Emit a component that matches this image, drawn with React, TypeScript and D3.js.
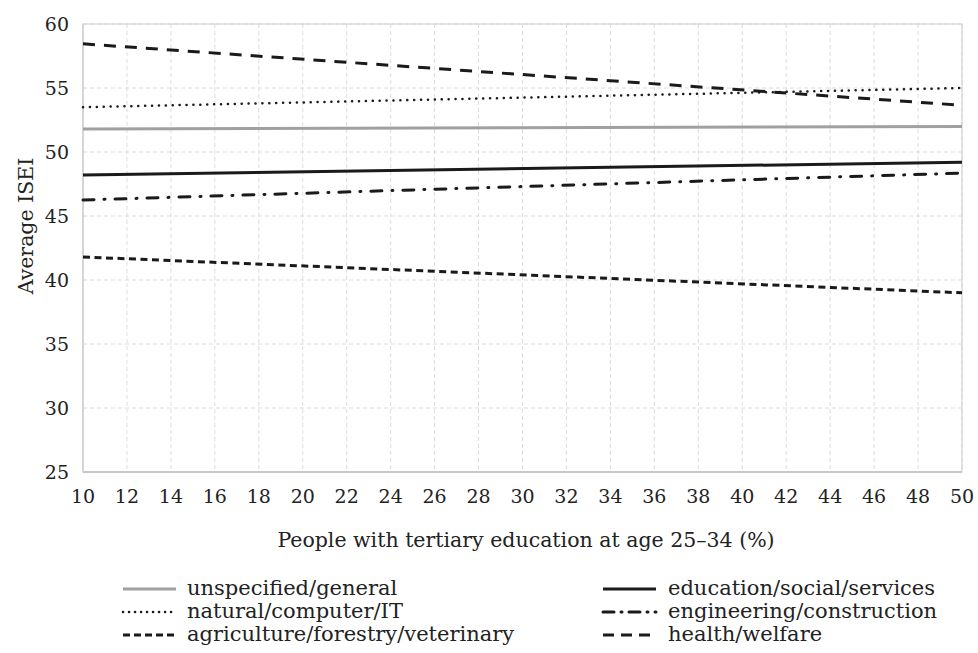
import React from "react";
import * as d3 from "d3";

const xTicks = [10, 12, 14, 16, 18, 20, 22, 24, 26, 28, 30, 32, 34, 36, 38, 40, 42, 44, 46, 48, 50];
const yTicks = [25, 30, 35, 40, 45, 50, 55, 60];
const seriesNames = [
  "unspecified/general",
  "education/social/services",
  "natural/computer/IT",
  "engineering/construction",
  "agriculture/forestry/veterinary",
  "health/welfare",
];
const xEnds = [10, 50];
const unspecifiedVals = [51.8, 52.0];
const educationVals = [48.2, 49.2];
const naturalVals = [53.5, 55.0];
const engineeringVals = [46.25, 48.35];
const agricultureVals = [41.8, 39.0];
const healthVals = [58.45, 53.65];

const W = 978, H = 653;
const M = { left: 83, right: 16, top: 24, bottom: 181 };
const FONT = "DejaVu Serif";

const styles: Record<string, { color: string; width: number; dash: string; legendDash: string; cap: string }> = {
  "unspecified/general": { color: "#a0a0a0", width: 3, dash: "", legendDash: "", cap: "butt" },
  "education/social/services": { color: "#1a1a1a", width: 3, dash: "", legendDash: "", cap: "butt" },
  "natural/computer/IT": { color: "#1a1a1a", width: 2.5, dash: "0.1 6.8", legendDash: "0.1 5.9", cap: "round" },
  "engineering/construction": { color: "#1a1a1a", width: 3, dash: "11 10 1 10", legendDash: "11 7 1 7", cap: "round" },
  "agriculture/forestry/veterinary": { color: "#1a1a1a", width: 3, dash: "7 4.5", legendDash: "7 4", cap: "butt" },
  "health/welfare": { color: "#1a1a1a", width: 3, dash: "12 9", legendDash: "11 7", cap: "butt" },
};

export default function App() {
  const x = d3.scaleLinear().domain([10, 50]).range([M.left, W - M.right]);
  const y = d3.scaleLinear().domain([25, 60]).range([H - M.bottom, M.top]);
  const line = d3
    .line<[number, number]>()
    .x((d) => x(d[0]))
    .y((d) => y(d[1]));
  const data: Record<string, number[]> = {
    "unspecified/general": unspecifiedVals,
    "education/social/services": educationVals,
    "natural/computer/IT": naturalVals,
    "engineering/construction": engineeringVals,
    "agriculture/forestry/veterinary": agricultureVals,
    "health/welfare": healthVals,
  };
  const drawOrder = [
    "agriculture/forestry/veterinary",
    "engineering/construction",
    "education/social/services",
    "unspecified/general",
    "natural/computer/IT",
    "health/welfare",
  ];
  const x0 = x.range()[0], x1 = x.range()[1];
  const y0 = y.range()[0], y1 = y.range()[1];

  const legendCols = [
    { lineX: 123, textX: 187, names: [seriesNames[0], seriesNames[2], seriesNames[4]] },
    { lineX: 603, textX: 668, names: [seriesNames[1], seriesNames[3], seriesNames[5]] },
  ];
  const legendBase = [595, 618, 641];
  const txt = { fontFamily: FONT };

  return (
    <svg width={W} height={H} style={{ position: "absolute", left: 0, top: 0, background: "#fff" }}>
      <rect x={0} y={0} width={W} height={H} fill="#fff" />
      {xTicks.map((t) => (
        <line key={"gx" + t} x1={x(t)} x2={x(t)} y1={y1} y2={y0} stroke="#dcdcdc" strokeWidth={1} strokeDasharray="4 3" />
      ))}
      {yTicks.map((t) => (
        <line key={"gy" + t} x1={x0} x2={x1} y1={y(t)} y2={y(t)} stroke="#dcdcdc" strokeWidth={1} strokeDasharray="4 3" />
      ))}
      <rect x={x0} y={y1} width={x1 - x0} height={y0 - y1} fill="none" stroke="#d4d4d4" strokeWidth={1.2} />
      <line x1={x0} x2={x1} y1={y0} y2={y0} stroke="#c8c8c8" strokeWidth={2} />
      <line x1={x0} x2={x0} y1={y1} y2={y0} stroke="#d0d0d0" strokeWidth={1.5} />
      {drawOrder.map((name) => {
        const s = styles[name];
        const pts: [number, number][] = xEnds.map((xv, i) => [xv, data[name][i]]);
        return (
          <path
            key={name}
            d={line(pts) || ""}
            fill="none"
            stroke={s.color}
            strokeWidth={s.width}
            strokeDasharray={s.dash || undefined}
            strokeLinecap={s.cap as any}
          />
        );
      })}
      {xTicks.map((t) => (
        <text key={"tx" + t} x={x(t)} y={y0 + 31} textAnchor="middle" fontSize={19} fill="#222" style={txt}>
          {t}
        </text>
      ))}
      {yTicks.map((t) => (
        <text key={"ty" + t} x={x0 - 14} y={y(t) + 6.5} textAnchor="end" fontSize={19} fill="#222" style={txt}>
          {t}
        </text>
      ))}
      <text x={526} y={547} textAnchor="middle" fontSize={20.5} fill="#222" style={txt}>
        People with tertiary education at age 25–34 (%)
      </text>
      <text transform={`translate(33, 226) rotate(-90)`} textAnchor="middle" fontSize={20.5} fill="#222" style={txt}>
        Average ISEI
      </text>
      {legendCols.map((col, ci) =>
        col.names.map((name, ri) => {
          const s = styles[name];
          const base = legendBase[ri];
          const ly = base - 6;
          return (
            <g key={name}>
              <line
                x1={col.lineX}
                x2={col.lineX + 53}
                y1={ly}
                y2={ly}
                stroke={s.color}
                strokeWidth={s.width}
                strokeDasharray={s.legendDash || undefined}
                strokeLinecap={s.cap as any}
              />
              <text x={col.textX} y={base} fontSize={21} fill="#222" style={txt}>
                {name}
              </text>
            </g>
          );
        })
      )}
    </svg>
  );
}
